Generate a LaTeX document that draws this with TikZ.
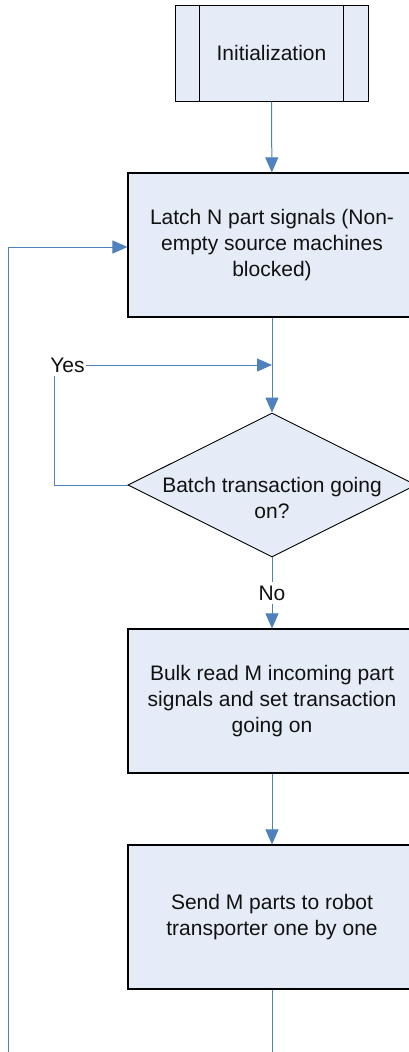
\documentclass[tikz,border=0pt]{standalone}
\usepackage{fontspec}
\setmainfont{Liberation Sans}
\usetikzlibrary{shapes.geometric,arrows.meta}
\definecolor{boxfill}{HTML}{E6ECF7}
\definecolor{flowblue}{HTML}{4F81BD}
\definecolor{inkgray}{HTML}{111111}

\begin{document}
\begin{tikzpicture}[x=1pt,y=-1pt,
  txt/.style={font=\fontsize{21}{26}\selectfont, text=inkgray, align=center},
  proc/.style={txt, draw=black, line width=1.1pt, fill=boxfill,
    minimum width=288pt, minimum height=144pt, inner sep=0pt},
  predef/.style={txt, draw=black, line width=1pt, fill=boxfill,
    minimum width=193pt, minimum height=96pt, inner sep=0pt},
  decide/.style={diamond, draw=black, line width=0.9pt, fill=boxfill,
    minimum width=288pt, minimum height=144pt, inner sep=0pt},
  flow/.style={draw=flowblue, line width=1pt},
  tip/.style={-{Triangle[length=15pt,width=13pt]}},
  lbl/.style={txt, fill=white, inner xsep=1pt, inner ysep=4pt}
]
\useasboundingbox (0,0) rectangle (409,1052);
\clip (0,0) rectangle (409,1052);

% process steps
\node[predef] (init) at (271.5,53) {Initialization};
\draw[line width=1pt] ([xshift=25pt]init.north west) -- ([xshift=25pt]init.south west)
                      ([xshift=-25pt]init.north east) -- ([xshift=-25pt]init.south east);
\node[proc] (latch) at (272,245) {Latch N part signals (Non-\\empty source machines\\blocked)};
\node[decide] (dec) at (272,485) {};
\node[txt] (dectext) at (272,498) {Batch transaction going\\on?};
\node[proc] (bulk) at (272,701) {Bulk read M incoming part\\signals and set transaction\\going on};
\node[proc] (send) at (272,917) {Send M parts to robot\\transporter one by one};

% connectors
\coordinate (merge) at (272,365);
\coordinate (endmain) at (272,1052);
\coordinate (endloop) at (8,1052);

\draw[flow,tip] (init) -- (latch);
\draw[flow,tip] (latch) -- (dec);
\draw[flow,tip] (dec.west) -- ++(-73,0) |- (merge);
\node[lbl] (yes) at (67.5,365) {Yes};
\draw[flow,tip] (dec) -- (bulk);
\node[lbl] (no) at (272,593) {No};
\draw[flow,tip] (bulk) -- (send);
\draw[flow] (send) -- (endmain);
\draw[flow,tip] (endloop) |- ([yshift=-2pt]latch.west);
\end{tikzpicture}
\end{document}
